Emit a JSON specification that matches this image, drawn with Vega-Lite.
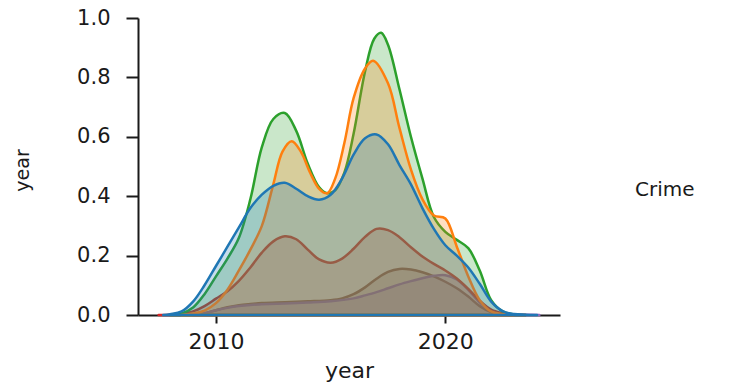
{
  "$schema": "https://vega.github.io/schema/vega-lite/v6.json",
  "width": 422,
  "height": 297,
  "autosize": {"type": "none"},
  "padding": {"left": 138, "top": 18, "right": 176, "bottom": 70},
  "background": "white",
  "config": {
    "view": {"stroke": null},
    "font": "DejaVu Sans",
    "axis": {"grid": false, "domainColor": "#1a1a1a", "tickColor": "#1a1a1a", "labelColor": "#1a1a1a", "titleColor": "#1a1a1a", "domainWidth": 2, "tickWidth": 2, "labelFont": "DejaVu Sans", "titleFont": "DejaVu Sans", "titleFontWeight": "normal"}
  },
  "data": {"values": [
    {"crime":"c6","year":2009,"density":0},{"crime":"c6","year":2009.5,"density":0.006},{"crime":"c6","year":2010,"density":0.016},{"crime":"c6","year":2010.5,"density":0.026},{"crime":"c6","year":2011,"density":0.033},{"crime":"c6","year":2011.5,"density":0.037},{"crime":"c6","year":2012,"density":0.04},{"crime":"c6","year":2013,"density":0.043},{"crime":"c6","year":2014,"density":0.046},{"crime":"c6","year":2015,"density":0.05},{"crime":"c6","year":2015.5,"density":0.056},{"crime":"c6","year":2016,"density":0.07},{"crime":"c6","year":2016.5,"density":0.093},{"crime":"c6","year":2017,"density":0.122},{"crime":"c6","year":2017.5,"density":0.145},{"crime":"c6","year":2018,"density":0.155},{"crime":"c6","year":2018.5,"density":0.153},{"crime":"c6","year":2019,"density":0.144},{"crime":"c6","year":2019.5,"density":0.13},{"crime":"c6","year":2020,"density":0.112},{"crime":"c6","year":2020.5,"density":0.09},{"crime":"c6","year":2021,"density":0.062},{"crime":"c6","year":2021.5,"density":0.03},{"crime":"c6","year":2022,"density":0.01},{"crime":"c6","year":2022.5,"density":0.002},{"crime":"c6","year":2023,"density":0},
    {"crime":"c5","year":2009,"density":0},{"crime":"c5","year":2009.5,"density":0.006},{"crime":"c5","year":2010,"density":0.016},{"crime":"c5","year":2010.5,"density":0.024},{"crime":"c5","year":2011,"density":0.03},{"crime":"c5","year":2011.5,"density":0.034},{"crime":"c5","year":2012,"density":0.036},{"crime":"c5","year":2013,"density":0.039},{"crime":"c5","year":2014,"density":0.042},{"crime":"c5","year":2015,"density":0.046},{"crime":"c5","year":2016,"density":0.056},{"crime":"c5","year":2016.5,"density":0.066},{"crime":"c5","year":2017,"density":0.077},{"crime":"c5","year":2017.5,"density":0.09},{"crime":"c5","year":2018,"density":0.103},{"crime":"c5","year":2018.5,"density":0.114},{"crime":"c5","year":2019,"density":0.124},{"crime":"c5","year":2019.5,"density":0.132},{"crime":"c5","year":2020,"density":0.134},{"crime":"c5","year":2020.5,"density":0.12},{"crime":"c5","year":2021,"density":0.085},{"crime":"c5","year":2021.5,"density":0.042},{"crime":"c5","year":2022,"density":0.014},{"crime":"c5","year":2022.5,"density":0.005},{"crime":"c5","year":2023,"density":0.002},{"crime":"c5","year":2023.5,"density":0.001},{"crime":"c5","year":2024.1,"density":0},
    {"crime":"c4","year":2007.5,"density":0},{"crime":"c4","year":2008,"density":0.001},{"crime":"c4","year":2008.5,"density":0.004},{"crime":"c4","year":2009,"density":0.012},{"crime":"c4","year":2009.5,"density":0.03},{"crime":"c4","year":2010,"density":0.055},{"crime":"c4","year":2010.5,"density":0.08},{"crime":"c4","year":2011,"density":0.115},{"crime":"c4","year":2011.5,"density":0.16},{"crime":"c4","year":2012,"density":0.21},{"crime":"c4","year":2012.5,"density":0.248},{"crime":"c4","year":2013,"density":0.265},{"crime":"c4","year":2013.5,"density":0.255},{"crime":"c4","year":2014,"density":0.22},{"crime":"c4","year":2014.5,"density":0.187},{"crime":"c4","year":2015,"density":0.176},{"crime":"c4","year":2015.5,"density":0.19},{"crime":"c4","year":2016,"density":0.223},{"crime":"c4","year":2016.5,"density":0.263},{"crime":"c4","year":2017,"density":0.29},{"crime":"c4","year":2017.5,"density":0.286},{"crime":"c4","year":2018,"density":0.262},{"crime":"c4","year":2018.5,"density":0.228},{"crime":"c4","year":2019,"density":0.197},{"crime":"c4","year":2019.5,"density":0.172},{"crime":"c4","year":2020,"density":0.15},{"crime":"c4","year":2020.5,"density":0.123},{"crime":"c4","year":2021,"density":0.088},{"crime":"c4","year":2021.5,"density":0.048},{"crime":"c4","year":2022,"density":0.018},{"crime":"c4","year":2022.5,"density":0.006},{"crime":"c4","year":2023,"density":0.002},{"crime":"c4","year":2023.5,"density":0},
    {"crime":"c3","year":2008,"density":0},{"crime":"c3","year":2008.5,"density":0.005},{"crime":"c3","year":2009,"density":0.025},{"crime":"c3","year":2009.5,"density":0.07},{"crime":"c3","year":2010,"density":0.13},{"crime":"c3","year":2010.5,"density":0.19},{"crime":"c3","year":2011,"density":0.26},{"crime":"c3","year":2011.5,"density":0.39},{"crime":"c3","year":2012,"density":0.565},{"crime":"c3","year":2012.5,"density":0.66},{"crime":"c3","year":2013,"density":0.68},{"crime":"c3","year":2013.5,"density":0.62},{"crime":"c3","year":2014,"density":0.51},{"crime":"c3","year":2014.5,"density":0.43},{"crime":"c3","year":2014.85,"density":0.41},{"crime":"c3","year":2015.2,"density":0.42},{"crime":"c3","year":2015.6,"density":0.48},{"crime":"c3","year":2016,"density":0.61},{"crime":"c3","year":2016.5,"density":0.82},{"crime":"c3","year":2016.9,"density":0.93},{"crime":"c3","year":2017.2,"density":0.95},{"crime":"c3","year":2017.5,"density":0.91},{"crime":"c3","year":2018,"density":0.76},{"crime":"c3","year":2018.5,"density":0.6},{"crime":"c3","year":2019,"density":0.46},{"crime":"c3","year":2019.5,"density":0.33},{"crime":"c3","year":2020,"density":0.28},{"crime":"c3","year":2020.5,"density":0.253},{"crime":"c3","year":2021,"density":0.225},{"crime":"c3","year":2021.5,"density":0.15},{"crime":"c3","year":2022,"density":0.05},{"crime":"c3","year":2022.5,"density":0.012},{"crime":"c3","year":2023,"density":0.002},{"crime":"c3","year":2023.5,"density":0},
    {"crime":"c2","year":2008.5,"density":0},{"crime":"c2","year":2009,"density":0.005},{"crime":"c2","year":2009.5,"density":0.015},{"crime":"c2","year":2010,"density":0.04},{"crime":"c2","year":2010.5,"density":0.085},{"crime":"c2","year":2011,"density":0.15},{"crime":"c2","year":2011.5,"density":0.22},{"crime":"c2","year":2012,"density":0.3},{"crime":"c2","year":2012.5,"density":0.44},{"crime":"c2","year":2012.9,"density":0.55},{"crime":"c2","year":2013.3,"density":0.585},{"crime":"c2","year":2013.7,"density":0.55},{"crime":"c2","year":2014.1,"density":0.48},{"crime":"c2","year":2014.5,"density":0.425},{"crime":"c2","year":2014.85,"density":0.41},{"crime":"c2","year":2015.2,"density":0.46},{"crime":"c2","year":2015.6,"density":0.58},{"crime":"c2","year":2016,"density":0.73},{"crime":"c2","year":2016.5,"density":0.83},{"crime":"c2","year":2016.85,"density":0.856},{"crime":"c2","year":2017.5,"density":0.78},{"crime":"c2","year":2018,"density":0.63},{"crime":"c2","year":2018.5,"density":0.49},{"crime":"c2","year":2019,"density":0.39},{"crime":"c2","year":2019.5,"density":0.335},{"crime":"c2","year":2020,"density":0.325},{"crime":"c2","year":2020.5,"density":0.23},{"crime":"c2","year":2021,"density":0.13},{"crime":"c2","year":2021.5,"density":0.05},{"crime":"c2","year":2022,"density":0.012},{"crime":"c2","year":2022.5,"density":0.003},{"crime":"c2","year":2023,"density":0},
    {"crime":"c1","year":2007.7,"density":0},{"crime":"c1","year":2008,"density":0.003},{"crime":"c1","year":2008.5,"density":0.012},{"crime":"c1","year":2009,"density":0.045},{"crime":"c1","year":2009.5,"density":0.1},{"crime":"c1","year":2010,"density":0.165},{"crime":"c1","year":2010.5,"density":0.23},{"crime":"c1","year":2011,"density":0.295},{"crime":"c1","year":2011.5,"density":0.36},{"crime":"c1","year":2012,"density":0.405},{"crime":"c1","year":2012.5,"density":0.435},{"crime":"c1","year":2013,"density":0.445},{"crime":"c1","year":2013.5,"density":0.425},{"crime":"c1","year":2014,"density":0.4},{"crime":"c1","year":2014.5,"density":0.388},{"crime":"c1","year":2015,"density":0.405},{"crime":"c1","year":2015.5,"density":0.46},{"crime":"c1","year":2016,"density":0.54},{"crime":"c1","year":2016.5,"density":0.595},{"crime":"c1","year":2017,"density":0.608},{"crime":"c1","year":2017.5,"density":0.575},{"crime":"c1","year":2018,"density":0.505},{"crime":"c1","year":2018.5,"density":0.44},{"crime":"c1","year":2019,"density":0.36},{"crime":"c1","year":2019.5,"density":0.29},{"crime":"c1","year":2020,"density":0.235},{"crime":"c1","year":2020.5,"density":0.2},{"crime":"c1","year":2021,"density":0.16},{"crime":"c1","year":2021.5,"density":0.105},{"crime":"c1","year":2022,"density":0.045},{"crime":"c1","year":2022.5,"density":0.013},{"crime":"c1","year":2023,"density":0.003},{"crime":"c1","year":2023.5,"density":0.001},{"crime":"c1","year":2024,"density":0}
  ]},
  "mark": {"type": "area", "interpolate": "catmull-rom", "fillOpacity": 0.25, "strokeOpacity": 1, "strokeWidth": 2.5, "strokeJoin": "round"},
  "encoding": {
    "x": {"field": "year", "type": "quantitative",
      "scale": {"domain": [2006.6, 2025], "nice": false, "zero": false},
      "axis": {"values": [2010, 2020], "format": "d", "title": "year", "labelFontSize": 22, "titleFontSize": 22, "tickSize": 8, "labelPadding": 25, "labelBaseline": "alphabetic", "titleY": 62, "titleBaseline": "alphabetic"}},
    "y": {"field": "density", "type": "quantitative", "stack": null,
      "scale": {"domain": [0, 1], "nice": false},
      "axis": {"values": [0, 0.2, 0.4, 0.6, 0.8, 1.0], "format": ".1f", "title": "year", "labelFontSize": 21, "titleFontSize": 19, "tickSize": 12, "labelPadding": 16, "titleX": -110, "titleY": 152, "titleBaseline": "alphabetic", "titleAngle": 270}},
    "fill": {"field": "crime", "type": "nominal",
      "scale": {"domain": ["c1","c2","c3","c4","c5","c6"], "range": ["#1f77b4","#ff7f0e","#2ca02c","#d62728","#9467bd","#8c564b"]},
      "legend": {"title": "Crime", "orient": "none", "legendX": 497, "legendY": 162, "titleFontSize": 20, "titleFont": "DejaVu Sans", "titleFontWeight": "normal", "titleColor": "#1a1a1a", "labelExpr": "''", "symbolOpacity": 0, "symbolStrokeWidth": 0, "labelOpacity": 0}},
    "stroke": {"field": "crime", "type": "nominal",
      "scale": {"domain": ["c1","c2","c3","c4","c5","c6"], "range": ["#1f77b4","#ff7f0e","#2ca02c","#d62728","#9467bd","#8c564b"]},
      "legend": null}
  }
}
